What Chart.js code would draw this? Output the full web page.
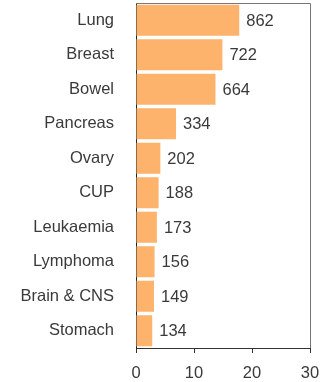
<!DOCTYPE html>
<html>
<head>
<meta charset="utf-8">
<script src="https://cdn.jsdelivr.net/npm/chart.js@4"></script>
<style>
  html, body { margin: 0; padding: 0; background: #fff; }
  #wrap { width: 323px; height: 382px; }
</style>
</head>
<body>
<div id="wrap"><canvas id="chart" width="323" height="382"></canvas></div>
<script>
/* ================= DATA ================= */
const categories = ["Lung", "Breast", "Bowel", "Pancreas", "Ovary", "CUP", "Leukaemia", "Lymphoma", "Brain & CNS", "Stomach"];
const percentValues = [17.8, 14.9, 13.7, 6.9, 4.2, 3.9, 3.6, 3.2, 3.1, 2.8];
const countLabels = ["862", "722", "664", "334", "202", "188", "173", "156", "149", "134"];
const xTicks = [0, 10, 20, 30];

const TEXT = "#3a3a3a";
const FONT = { family: "'Liberation Sans', Arial, sans-serif", size: 16.5 };

/* ================= VALUE LABELS + FRAME ================= */
const barLabels = {
    id: "barLabels",
    afterDatasetsDraw(chart) {
        const ctx = chart.ctx;
        const meta = chart.getDatasetMeta(0);
        ctx.save();
        ctx.fillStyle = TEXT;
        ctx.font = `${FONT.size}px ${FONT.family}`;
        ctx.textAlign = "left";
        ctx.textBaseline = "middle";
        meta.data.forEach((bar, i) => {
            ctx.fillText(countLabels[i], bar.x + 7, bar.y + 1);
        });
        ctx.restore();
    },
    afterDraw(chart) {
        const { ctx, chartArea: a } = chart;
        ctx.save();
        ctx.lineWidth = 1;
        ctx.strokeStyle = "#777";
        ctx.beginPath();
        ctx.moveTo(a.left, a.top + 0.5);
        ctx.lineTo(a.right + 0.5, a.top + 0.5);
        ctx.lineTo(a.right + 0.5, a.bottom);
        ctx.stroke();
        ctx.restore();
    }
};

/* ================= CHART ================= */
new Chart(document.getElementById("chart"), {
    type: "bar",
    data: {
        labels: categories,
        datasets: [{
            data: percentValues,
            backgroundColor: "#FDB36B",
            borderWidth: 0,
            barPercentage: 0.9,
            categoryPercentage: 1.0
        }]
    },
    options: {
        indexAxis: "y",
        responsive: false,
        animation: false,
        layout: { padding: { left: 0, right: 13, top: 3, bottom: 0 } },
        plugins: { legend: { display: false }, tooltip: { enabled: false } },
        scales: {
            x: {
                min: 0,
                max: 30,
                afterBuildTicks: axis => { axis.ticks = xTicks.map(v => ({ value: v })); },
                afterFit: axis => {
                    axis.height = 34;
                    axis.paddingLeft = 0;
                    axis.paddingRight = 0;
                },
                grid: { drawOnChartArea: false, drawTicks: true, tickLength: 5, color: "#333" },
                border: { color: "#333", width: 1 },
                ticks: { color: TEXT, font: FONT, padding: 11, maxRotation: 0 }
            },
            y: {
                afterFit: axis => {
                    axis.width = 136;
                    axis.paddingTop = 0;
                    axis.paddingBottom = 0;
                },
                grid: { display: false, drawTicks: false },
                border: { color: "#222", width: 1 },
                ticks: { color: TEXT, font: FONT, padding: 22 }
            }
        }
    },
    plugins: [barLabels]
});
</script>
</body>
</html>
